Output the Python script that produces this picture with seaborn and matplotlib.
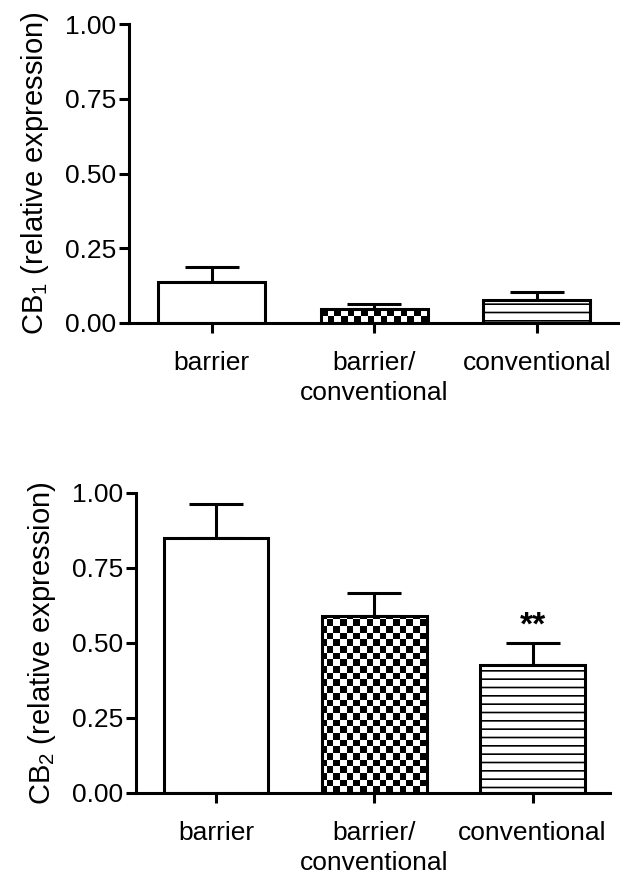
import numpy as np
import matplotlib
matplotlib.use("Agg")
import matplotlib.pyplot as plt
import seaborn as sns

categories = ["barrier", "barrier/\nconventional", "conventional"]
cb1_mean = [0.137, 0.047, 0.077]
cb1_err = [0.050, 0.016, 0.028]
cb2_mean = [0.849, 0.589, 0.428]
cb2_err = [0.113, 0.078, 0.071]
yticks = [0.00, 0.25, 0.50, 0.75, 1.00]
ytick_labels = ["0.00", "0.25", "0.50", "0.75", "1.00"]
ylabels = ["CB$_1$ (relative expression)", "CB$_2$ (relative expression)"]
sig_marks = ["", "", "**"]

sns.set_style("ticks")
plt.rcParams["font.family"] = ["Liberation Sans", "DejaVu Sans"]
plt.rcParams["mathtext.fontset"] = "custom"
plt.rcParams["mathtext.rm"] = "Liberation Sans"
plt.rcParams["mathtext.it"] = "Liberation Sans:italic"
plt.rcParams["mathtext.default"] = "regular"
plt.rcParams["hatch.linewidth"] = 1.2
plt.rcParams["hatch.color"] = "black"
plt.rcParams["text.color"] = "black"
plt.rcParams["axes.labelcolor"] = "black"

FS = 19
LW = 2.2
fig = plt.figure(figsize=(6.24, 8.77), dpi=100)
ax1 = fig.add_axes([0.2067, 0.6317, 0.7837, 0.3409])
ax2 = fig.add_axes([0.2180, 0.0958, 0.7596, 0.3421])

cell_px = 6.6

def draw(ax, means, errs, ylabel, xlim, marks=None):
    sns.barplot(x=categories, y=means, ax=ax, color="white", edgecolor="black",
                linewidth=LW, width=0.66, errorbar=None, saturation=1)
    patches = ax.patches
    for p in patches:
        p.set_facecolor("white")
        p.set_edgecolor("black")
        p.set_linewidth(LW)
    x = np.arange(len(means))
    ax.errorbar(x, means, yerr=[np.zeros(len(means)), errs], fmt="none",
                ecolor="black", elinewidth=LW, capsize=19.5, capthick=LW, zorder=0.5)
    patches[2].set_hatch("--")
    bb = ax.get_position()
    W = bb.width * fig.get_figwidth() * fig.dpi
    H = bb.height * fig.get_figheight() * fig.dpi
    nx = int(round(W / cell_px))
    ny = int(round(H / cell_px))
    checker = np.add.outer(np.arange(ny), np.arange(nx)) % 2
    p = patches[1]
    im = ax.imshow(checker, cmap="gray", vmin=0, vmax=1, extent=(xlim[0], xlim[1], 0, 1),
                   aspect="auto", interpolation="nearest", origin="lower",
                   zorder=p.get_zorder() - 0.01)
    im.set_clip_path(p)
    p.set_facecolor("none")
    ax.set_xlim(*xlim)
    ax.set_ylim(0, 1)
    ax.set_yticks(yticks)
    ax.set_yticklabels(ytick_labels)
    ax.set_ylabel(ylabel, fontsize=21, labelpad=10)
    ax.set_xlabel("")
    ax.tick_params(axis="both", direction="out", length=7.5, width=LW, labelsize=FS,
                   color="black", labelcolor="black")
    ax.tick_params(axis="x", pad=13)
    ax.tick_params(axis="y", pad=2)
    for lab in ax.get_xticklabels():
        lab.set_linespacing(1.3)
    for s in ["top", "right"]:
        ax.spines[s].set_visible(False)
    for s in ["left", "bottom"]:
        ax.spines[s].set_linewidth(LW)
        ax.spines[s].set_color("black")
    if marks:
        for i, m in enumerate(marks):
            if m:
                ax.text(i, means[i] + errs[i] + 0.03, m, ha="center", va="baseline",
                        fontsize=24, fontweight="bold", color="black")

draw(ax1, cb1_mean, cb1_err, ylabels[0], (-0.51, 2.50))
draw(ax2, cb2_mean, cb2_err, ylabels[1], (-0.506, 2.49), sig_marks)

fig.savefig("out.png", dpi=100)
